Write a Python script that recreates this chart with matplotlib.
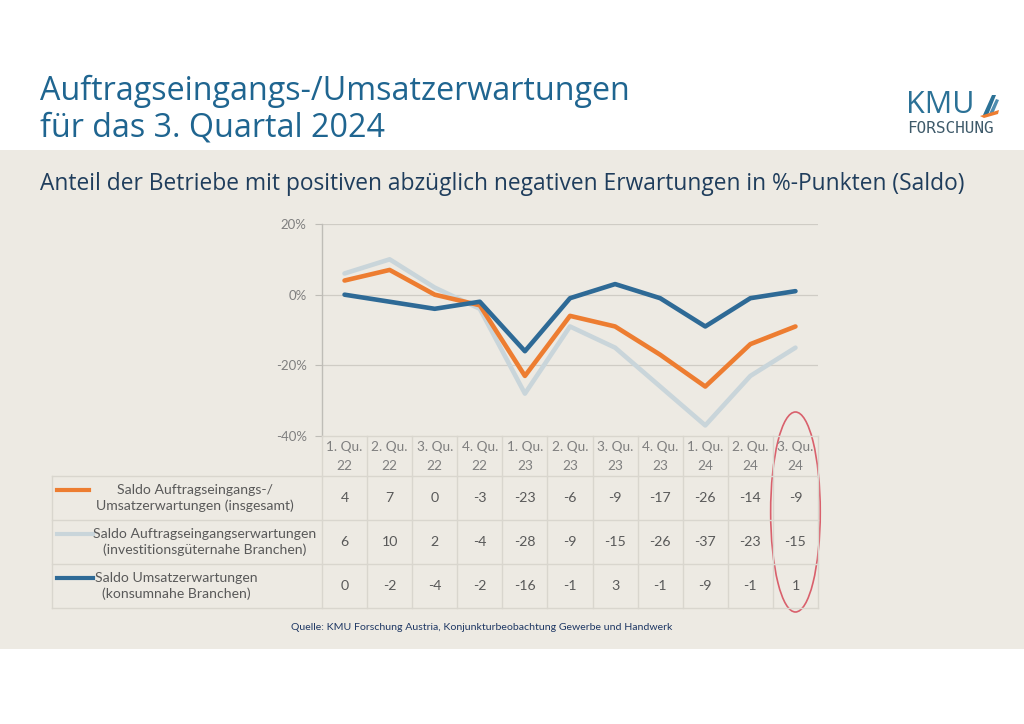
import matplotlib
matplotlib.use("Agg")
import matplotlib.pyplot as plt
from matplotlib.lines import Line2D
from matplotlib.patches import Ellipse, Rectangle, Polygon
from matplotlib.transforms import blended_transform_factory
import numpy as np

# ---------------- data ----------------
quarters = ["1. Qu.\n22", "2. Qu.\n22", "3. Qu.\n22", "4. Qu.\n22",
            "1. Qu.\n23", "2. Qu.\n23", "3. Qu.\n23", "4. Qu.\n23",
            "1. Qu.\n24", "2. Qu.\n24", "3. Qu.\n24"]
total = [4, 7, 0, -3, -23, -6, -9, -17, -26, -14, -9]
invest = [6, 10, 2, -4, -28, -9, -15, -26, -37, -23, -15]
konsum = [0, -2, -4, -2, -16, -1, 3, -1, -9, -1, 1]
series_labels = ["Saldo Auftragseingangs-/\nUmsatzerwartungen (insgesamt)",
                 "Saldo Auftragseingangserwartungen\n(investitionsgüternahe Branchen)",
                 "Saldo Umsatzerwartungen\n(konsumnahe Branchen)"]
yticks = [20, 0, -20, -40]

C_ORANGE = "#ED7D31"
C_GREY = "#C9D5DA"
C_BLUE = "#2E6A96"
C_BG = "#EDEAE3"
C_LINE = "#D9D6CE"
C_TITLE = "#1F6590"

W, H = 1024, 724
fig = plt.figure(figsize=(W / 100, H / 100), dpi=100)
fig.patch.set_facecolor("white")

def fx(px):
    return px / W

def fy(py):
    return 1 - py / H

# beige band
fig.patches.append(Rectangle((0, fy(649)), 1, fy(150) - fy(649), transform=fig.transFigure,
                             facecolor=C_BG, edgecolor="none", zorder=-5))

# titles
fig.text(fx(40), fy(100), "Auftragseingangs-/Umsatzerwartungen", family="Open Sans",
         fontsize=23.2, color=C_TITLE, va="baseline", ha="left")
fig.text(fx(40), fy(137), "für das 3. Quartal 2024", family="Open Sans",
         fontsize=23.2, color=C_TITLE, va="baseline", ha="left")
fig.text(fx(40), fy(190), "Anteil der Betriebe mit positiven abzüglich negativen Erwartungen in %-Punkten (Saldo)",
         family="Open Sans", fontsize=16.4, color="#1F3D5C", va="baseline", ha="left")

# logo
fig.text(fx(906), fy(113), "KMU", family="Open Sans", fontsize=22, color="#2B7196",
         va="baseline", ha="left", fontweight="medium")
fig.text(fx(907), fy(133), "FORSCHUNG",
         family="DejaVu Sans Mono", fontsize=11.5, color="#3E5A6A", va="baseline", ha="left")
fig.patches.append(Polygon([[fx(983), fy(115)], [fx(992), fy(95)], [fx(996), fy(95)], [fx(988), fy(115)]],
                           closed=True, transform=fig.transFigure, facecolor="#2B7196", edgecolor="none"))
fig.patches.append(Polygon([[fx(989), fy(114)], [fx(996), fy(99)], [fx(999), fy(100)], [fx(993), fy(114)]],
                           closed=True, transform=fig.transFigure, facecolor="#4F8DB0", edgecolor="none"))
fig.patches.append(Polygon([[fx(980), fy(116)], [fx(999), fy(110)], [fx(998), fy(114)], [fx(984), fy(118)]],
                           closed=True, transform=fig.transFigure, facecolor=C_ORANGE, edgecolor="none"))

# ---------------- chart axes ----------------
L, R, T, B = 322, 818, 224, 436
ax = fig.add_axes([fx(L), fy(B), fx(R) - fx(L), fy(T) - fy(B)])
ax.set_facecolor("none")
x = np.arange(len(quarters))
ax.plot(x, invest, color=C_GREY, lw=3.3, solid_capstyle="round", zorder=3)
ax.plot(x, total, color=C_ORANGE, lw=3.3, solid_capstyle="round", zorder=4)
ax.plot(x, konsum, color=C_BLUE, lw=3.3, solid_capstyle="round", zorder=5)
ax.set_xlim(-0.5, len(quarters) - 0.5)
ax.set_ylim(-40, 20)
ax.set_yticks(yticks)
ax.set_yticklabels([f"{v}%" for v in yticks], family="Lato", fontsize=9.5, color="#7F7F7F")
ax.set_xticks([])
for v in yticks[:-1]:
    ax.axhline(v, color="#CFCCC5", lw=0.9, zorder=1)
for s in ["top", "right", "bottom"]:
    ax.spines[s].set_visible(False)
ax.spines["left"].set_color("#BFBDB7")
ax.spines["left"].set_linewidth(1.0)
ax.tick_params(axis="y", length=5, color="#BFBDB7", pad=6)

# ---------------- data table ----------------
tr = blended_transform_factory(ax.transData, fig.transFigure)
rows_y = [476, 520, 564, 608]
for py in rows_y:
    fig.add_artist(Line2D([fx(52), fx(R)], [fy(py), fy(py)], color=C_LINE, lw=1.0))
fig.add_artist(Line2D([fx(L), fx(R)], [fy(B), fy(B)], color=C_LINE, lw=1.0))
fig.add_artist(Line2D([fx(52), fx(52)], [fy(476), fy(608)], color=C_LINE, lw=1.0))
fig.add_artist(Line2D([fx(L), fx(L)], [fy(B), fy(608)], color=C_LINE, lw=1.0))
for i in range(1, len(quarters) + 1):
    fig.add_artist(Line2D([i - 0.5, i - 0.5], [fy(B), fy(608)], color=C_LINE, lw=1.0, transform=tr))

# header
for i, q in enumerate(quarters):
    top, bot = q.split("\n")
    fig.text(i, fy(447), top, transform=tr, ha="center", va="center", family="Lato",
             fontsize=9.8, color="#7F7F7F")
    fig.text(i, fy(466), bot, transform=tr, ha="center", va="center", family="Lato",
             fontsize=9.8, color="#7F7F7F")

# values
data_rows = [total, invest, konsum]
colors = [C_ORANGE, C_GREY, C_BLUE]
centers = [498, 542, 586]
label_cx = [195, 205, 176]
leg_x1 = [89, 93, 93]
for r, vals in enumerate(data_rows):
    for i, v in enumerate(vals):
        fig.text(i, fy(centers[r]), str(v), transform=tr, ha="center", va="center",
                 family="Lato", fontsize=10.2, color="#595959")
    fig.text(fx(label_cx[r]), fy(centers[r]), series_labels[r], ha="center", va="center",
             family="Lato", fontsize=10.1, color="#595959", linespacing=1.3)
    fig.add_artist(Line2D([fx(57), fx(leg_x1[r])], [fy(centers[r] - 8), fy(centers[r] - 8)],
                          color=colors[r], lw=3.0))

# red ellipse around last quarter
fig.add_artist(Ellipse((len(quarters) - 1, fy(512)), 1.1, fy(412) - fy(612), transform=tr,
                       facecolor="none", edgecolor="#D9606C", lw=1.2))

# source
fig.text(fx(482), fy(627), "Quelle: KMU Forschung Austria, Konjunkturbeobachtung Gewerbe und Handwerk",
         ha="center", va="center", family="Lato", fontsize=7.55, color="#1F3864")

fig.savefig("out.png", dpi=100, facecolor=fig.get_facecolor())
